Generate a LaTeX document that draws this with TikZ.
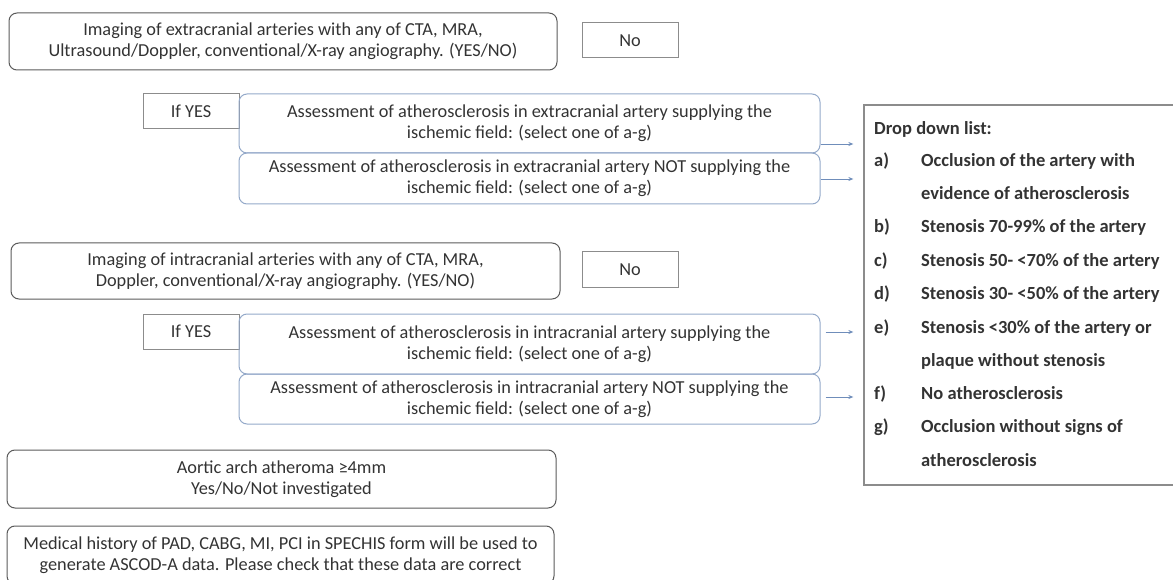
\documentclass[tikz,border=0pt]{standalone}
\usepackage{fontspec}
\setmainfont{Carlito}
\usetikzlibrary{arrows.meta}
\definecolor{txtgray}{HTML}{333333}
\definecolor{boxgray}{HTML}{5A5A5A}
\definecolor{nogray}{HTML}{8C8C8C}
\definecolor{asblue}{HTML}{94A9C9}
\definecolor{arrblue}{HTML}{6F8DBA}
\begin{document}
\begin{tikzpicture}[x=1pt, y=-1pt,
        qbox/.style={draw=boxgray, rounded corners=8pt, line width=1pt, align=center,
            inner sep=0pt, text=txtgray, font=\fontsize{18.3}{21}\selectfont},
        nobox/.style={draw=nogray, line width=1pt, inner sep=0pt, text=txtgray,
            minimum width=96pt, minimum height=35pt, font=\fontsize{18.3}{21}\selectfont},
        asbox/.style={qbox, draw=asblue, minimum width=581pt},
        flow/.style={draw=arrblue, line width=0.7pt, -{Stealth[length=5pt, width=4pt]}},
        item/.style={anchor=west, inner sep=0pt, text=txtgray, text height=12.5pt, text depth=3.5pt,
            font=\fontsize{18.5}{22}\bfseries\selectfont}]
    \useasboundingbox (0, 0) rectangle (1173, 580);
    % extracranial
    \node[qbox, minimum width=548pt, minimum height=57pt] (extra) at (283, 41.5)
        {Imaging of extracranial arteries with any of CTA, MRA,\\Ultrasound/Doppler, conventional/X-ray angiography. (YES/NO)};
    \node[nobox] (extrano) at (630, 40.5) {No};
    \node[nobox] (extrayes) at (191, 111.5) {If YES};
    \node[asbox, minimum height=59pt] (ass1) at (529.5, 123.5)
        {Assessment of atherosclerosis in extracranial artery supplying the\\ischemic field: (select one of a-g)};
    \node[asbox, minimum height=51pt] (ass2) at (529.5, 178.5)
        {Assessment of atherosclerosis in extracranial artery NOT supplying the\\ischemic field: (select one of a-g)};
    % intracranial
    \node[qbox, minimum width=549pt, minimum height=56pt] (intra) at (285.5, 271)
        {Imaging of intracranial arteries with any of CTA, MRA,\\Doppler, conventional/X-ray angiography. (YES/NO)};
    \node[nobox] (intrano) at (630, 269.5) {No};
    \node[nobox] (intrayes) at (191, 331.5) {If YES};
    \node[asbox, minimum height=60pt] (ass3) at (529.5, 344)
        {Assessment of atherosclerosis in intracranial artery supplying the\\ischemic field: (select one of a-g)};
    \node[asbox, minimum height=50pt] (ass4) at (529.5, 399)
        {Assessment of atherosclerosis in intracranial artery NOT supplying the\\ischemic field: (select one of a-g)};
    % aortic arch and history
    \node[qbox, minimum width=549pt, minimum height=58pt] (aortic) at (281.5, 479)
        {Aortic arch atheroma ≥4mm\\Yes/No/Not investigated};
    \node[qbox, minimum width=547pt, minimum height=58pt] (history) at (280.5, 555)
        {Medical history of PAD, CABG, MI, PCI in SPECHIS form will be used to\\generate ASCOD-A data. Please check that these data are correct};
    % drop down list
    \node[draw=nogray, line width=1.3pt, minimum width=356pt, minimum height=380pt] (list) at (1042, 295) {};
    \node[item] (listhead) at (874, 130) {Drop down list:};
    \foreach \lab/\ly in {a)/162, b)/228, c)/262, d)/295, e)/329, f)/395, g)/428}
        \node[item] (lab\ly) at (874, \ly) {\lab};
    \foreach \txt/\ly in {Occlusion of the artery with/162, evidence of atherosclerosis/195,
            Stenosis 70-99\% of the artery/228, Stenosis 50- <70\% of the artery/262,
            Stenosis 30- <50\% of the artery/295, Stenosis <30\% of the artery or/329,
            plaque without stenosis/362, No atherosclerosis/395,
            Occlusion without signs of/428, atherosclerosis/462}
        \node[item] (txt\ly) at (921, \ly) {\txt};
    % arrows
    \draw[flow] (ass1.east |- 0, 144) -- ([xshift=-10pt]list.west |- 0, 144);
    \draw[flow] (ass2.east |- 0, 179) -- ([xshift=-10pt]list.west |- 0, 179);
    \draw[flow] ([xshift=5pt]ass3.east |- 0, 332) -- ([xshift=-10pt]list.west |- 0, 332);
    \draw[flow] ([xshift=5pt]ass4.east |- 0, 397) -- ([xshift=-10pt]list.west |- 0, 397);
\end{tikzpicture}
\end{document}
